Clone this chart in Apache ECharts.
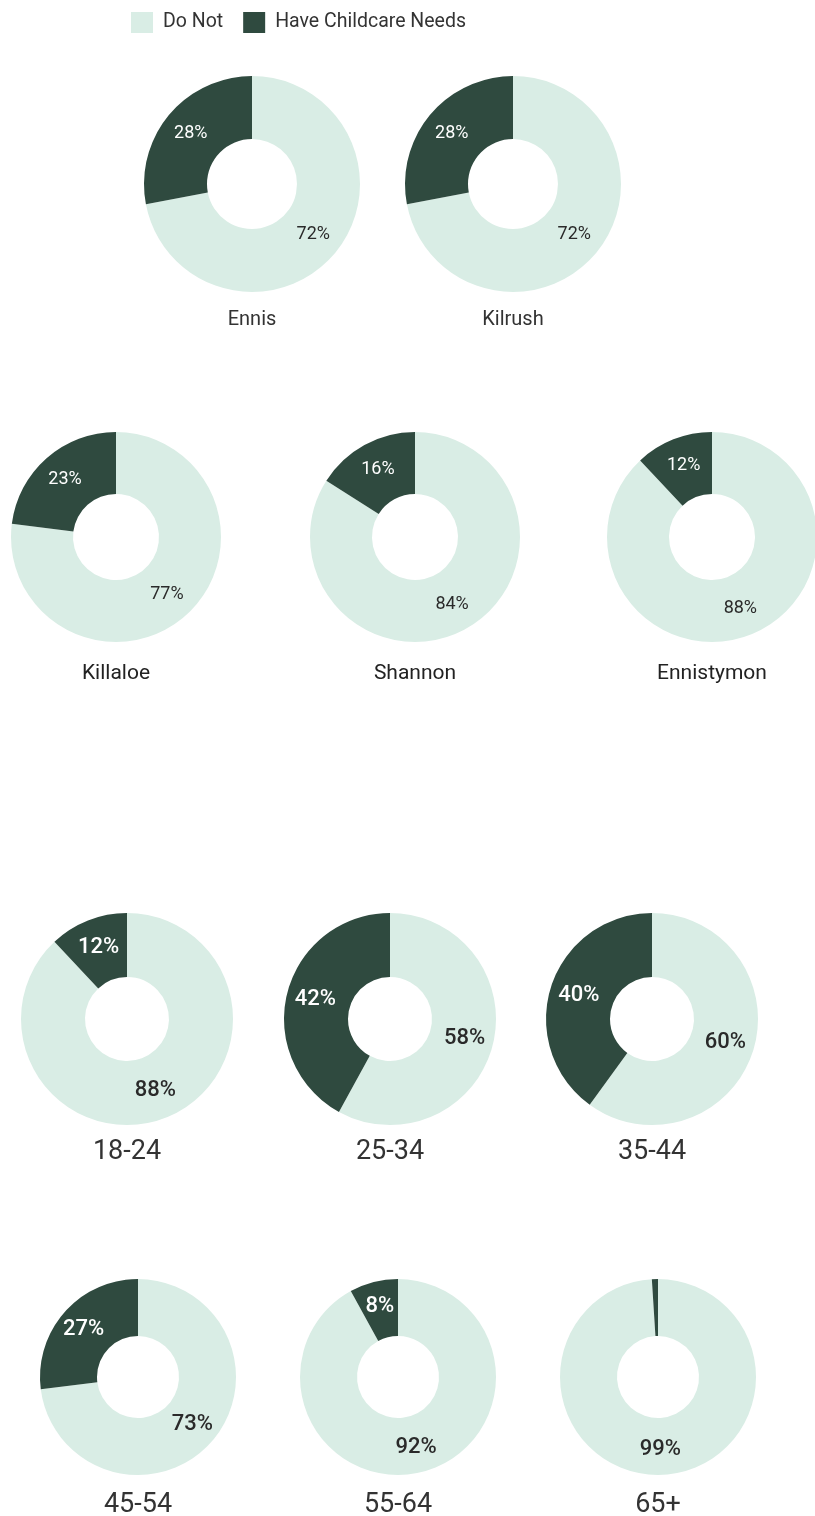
<!DOCTYPE html>
<html>
<head>
<meta charset="utf-8">
<script src="https://cdn.jsdelivr.net/npm/echarts@6/dist/echarts.min.js"></script>
<style>
html,body{margin:0;padding:0;background:#fff;}
#chart{width:815px;height:1516px;}
</style>
</head>
<body>
<div id="chart"></div>
<script>
// ---- data ----
const seriesNames = ['Do Not', 'Have Childcare Needs'];
const regions = ['Ennis', 'Kilrush', 'Killaloe', 'Shannon', 'Ennistymon'];
const regionDoNot = [72, 72, 77, 84, 88];
const regionHave = [28, 28, 23, 16, 12];
const ageGroups = ['18-24', '25-34', '35-44', '45-54', '55-64', '65+'];
const ageDoNot = [88, 58, 60, 73, 92, 99];
const ageHave = [12, 42, 40, 27, 8, 1];

// ---- layout (positions / sizes / styles) ----
const LIGHT = '#d9ede5';
const DARK = '#2f4a3f';
const rowStyle = {
  r1: {inner: 45, outer: 108, titleSize: 20, labelSize: 18, labelWeight: 'normal', titleColor: '#333'},
  r2: {inner: 43, outer: 105, titleSize: 21, labelSize: 18, labelWeight: 'normal', titleColor: '#222'},
  r3: {inner: 42, outer: 106, titleSize: 27, labelSize: 22, labelWeight: 500, titleColor: '#333'},
  r4: {inner: 41, outer: 98, titleSize: 27, labelSize: 22, labelWeight: 500, titleColor: '#333'}
};
const regionPos = [
  {cx: 252, cy: 184, ty: 318, row: 'r1'},
  {cx: 513, cy: 184, ty: 318, row: 'r1'},
  {cx: 116, cy: 537, ty: 672, row: 'r2'},
  {cx: 415, cy: 537, ty: 672, row: 'r2'},
  {cx: 712, cy: 537, ty: 672, row: 'r2'}
];
const agePos = [
  {cx: 127, cy: 1019, ty: 1150, row: 'r3'},
  {cx: 390, cy: 1019, ty: 1150, row: 'r3'},
  {cx: 652, cy: 1019, ty: 1150, row: 'r3'},
  {cx: 138, cy: 1377, ty: 1503, row: 'r4'},
  {cx: 398, cy: 1377, ty: 1503, row: 'r4'},
  {cx: 658, cy: 1377, ty: 1503, row: 'r4'}
];

const FONT = 'Roboto, "Noto Sans", sans-serif';

function makePie(name, doNot, have, pos) {
  const st = rowStyle[pos.row];
  return {
    type: 'pie',
    name: name,
    center: [pos.cx, pos.cy],
    radius: [st.inner, st.outer],
    startAngle: 90,
    clockwise: true,
    avoidLabelOverlap: false,
    silent: true,
    label: {
      show: true,
      position: 'inside',
      formatter: '{c}%',
      fontFamily: FONT,
      fontSize: st.labelSize,
      fontWeight: st.labelWeight
    },
    labelLine: {show: false},
    emphasis: {disabled: true},
    data: [
      {name: seriesNames[0], value: doNot, itemStyle: {color: LIGHT}, label: {color: '#2a2a2a', show: doNot >= 5}},
      {name: seriesNames[1], value: have, itemStyle: {color: DARK}, label: {color: '#ffffff', show: have >= 5}}
    ]
  };
}

function makeTitle(text, pos) {
  const st = rowStyle[pos.row];
  return {
    text: text,
    left: pos.cx,
    top: pos.ty - st.titleSize / 2 + 2,
    textAlign: 'center',
    padding: 0,
    textStyle: {fontFamily: FONT, fontSize: st.titleSize, fontWeight: 'normal', color: st.titleColor}
  };
}

const series = [];
const titles = [];
regions.forEach((r, i) => {
  series.push(makePie(r, regionDoNot[i], regionHave[i], regionPos[i]));
  titles.push(makeTitle(r, regionPos[i]));
});
ageGroups.forEach((a, i) => {
  series.push(makePie(a, ageDoNot[i], ageHave[i], agePos[i]));
  titles.push(makeTitle(a, agePos[i]));
});

const chart = echarts.init(document.getElementById('chart'), null, {renderer: 'canvas'});
chart.setOption({
  animation: false,
  backgroundColor: '#ffffff',
  color: [LIGHT, DARK],
  title: titles,
  legend: {
    data: seriesNames,
    left: 131,
    top: 12,
    padding: 0,
    icon: 'rect',
    itemWidth: 22,
    itemHeight: 21,
    itemGap: 20,
    selectedMode: false,
    textStyle: {fontFamily: FONT, fontSize: 19.5, color: '#333', padding: [0, 0, 0, 5]}
  },
  series: series
});
</script>
</body>
</html>
